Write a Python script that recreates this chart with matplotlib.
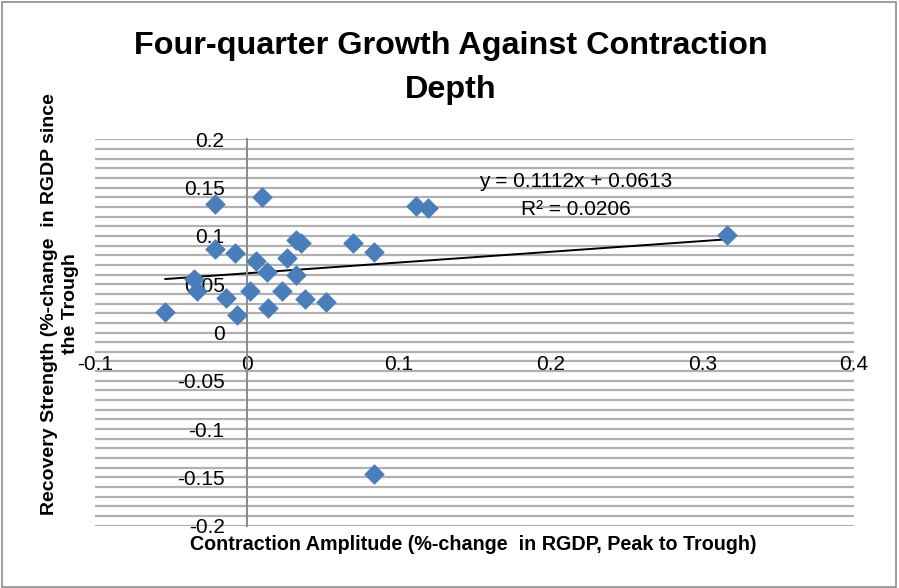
import numpy as np
import matplotlib
matplotlib.use('Agg')
from matplotlib import pyplot as plt
from matplotlib.patches import Rectangle

plt.rcParams['font.family'] = ['Liberation Sans Narrow', 'Liberation Sans', 'DejaVu Sans']

# contraction amplitude vs four-quarter recovery
contraction = [-0.0537, -0.0208, 0.0103, -0.0208, -0.0081, -0.0351, -0.0325,
               -0.0136, -0.0066, 0.0022, 0.0061, 0.0131, 0.0142, 0.0230,
               0.0263, 0.0322, 0.0357, 0.0324, 0.0383, 0.0519, 0.0701,
               0.0837, 0.1116, 0.1194, 0.3166, 0.0839]
recovery = [0.0208, 0.1335, 0.1403, 0.0867, 0.0821, 0.0555, 0.0433,
            0.0357, 0.0181, 0.0433, 0.0745, 0.0624, 0.0250, 0.0426,
            0.0773, 0.0953, 0.0925, 0.0600, 0.0347, 0.0312, 0.0929,
            0.0832, 0.1310, 0.1293, 0.1012, -0.1466]

slope = 0.1112
intercept = 0.0613
r2 = 0.0206

xticks = [-0.1, 0, 0.1, 0.2, 0.3, 0.4]
yticks = [-0.2, -0.15, -0.1, -0.05, 0, 0.05, 0.1, 0.15, 0.2]

fig = plt.figure(figsize=(8.99, 5.88), dpi=100)
ax = fig.add_axes([95/899, 1-525.7/588, 759/899, 386.4/588])

# outer chart border
fig.patches.append(Rectangle((2/899, 1/588), 894/899, 585/588, transform=fig.transFigure,
                             fill=False, edgecolor='#8c8c8c', linewidth=1.2))

ax.set_xlim(-0.1, 0.4)
ax.set_ylim(-0.2, 0.2)

# horizontal gridlines every 0.01
for g in np.arange(-20, 21) / 100.0:
    ax.axhline(g, color='#b0b0b0', linewidth=1.6, zorder=0)

for s in ['top', 'right']:
    ax.spines[s].set_visible(False)
ax.spines['bottom'].set_visible(False)
ax.spines['left'].set_position(('data', 0))
ax.spines['left'].set_color('#8a8a8a')
ax.spines['left'].set_linewidth(1.4)
ax.spines['bottom'].set_position(('data', 0))

ax.set_xticks(xticks)
ax.set_xticklabels(['%g' % t for t in xticks])
ax.set_yticks(yticks)
ax.set_yticklabels(['%g' % t for t in yticks])
ax.tick_params(axis='x', length=0, pad=16, labelsize=15)
ax.tick_params(axis='y', length=0, pad=16, labelsize=15)

ax.scatter(contraction, recovery, marker='D', s=100, color='#4a7ebb',
           edgecolors='#4a7ebb', linewidths=0.5, zorder=3)

# linear trendline over the data range
xs = np.array([min(contraction), max(contraction)])
ax.plot(xs, slope*xs + intercept, color='black', linewidth=1.4, zorder=2)

ax.text(0.2165, 0.1558, 'y = %.4fx + %.4f' % (slope, intercept), ha='center', va='center', fontsize=15)
ax.text(0.2165, 0.1278, 'R\u00b2 = %.4f' % r2, ha='center', va='center', fontsize=15)

fig.text(451/899, 1-68/588, 'Four-quarter Growth Against Contraction\nDepth', ha='center', va='center',
         fontsize=23.3, fontweight='bold', linespacing=1.57)
fig.text(473/899, 1-545/588, 'Contraction Amplitude (%-change  in RGDP, Peak to Trough)', ha='center',
         va='center', fontsize=14.2, fontweight='bold')
fig.text(60/899, 1-304/588, 'Recovery Strength (%-change  in RGDP since\nthe Trough', ha='center',
         va='center', rotation=90, fontsize=14, fontweight='bold', linespacing=1.3)

fig.savefig('out.png', dpi=100)
